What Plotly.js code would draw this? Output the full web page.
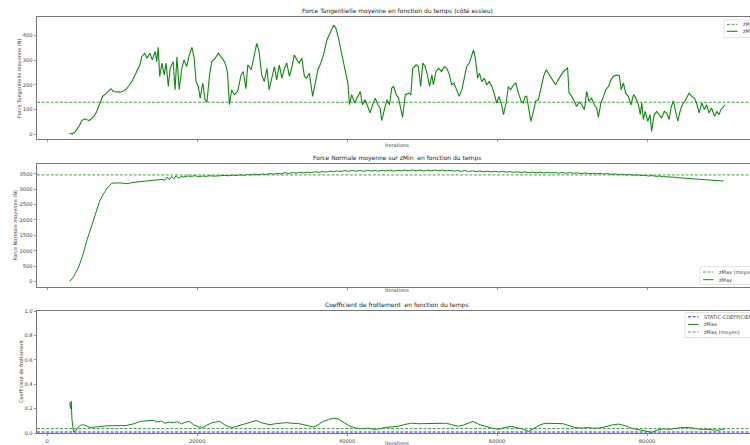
<!DOCTYPE html>
<html>
<head>
<meta charset="utf-8">
<script src="https://cdn.plot.ly/plotly-3.0.1.min.js"></script>
<style>
html,body{margin:0;padding:0;overflow:hidden;background:#fff;}
#chart{width:900px;height:445px;}
</style>
</head>
<body>
<div id="chart"></div>
<script>
// ---------- DATA ----------
const xTickVals = [0, 20000, 40000, 60000, 80000];

const tanIter = [3000,3300,3700,4000,4300,4600,5000,5300,5600,6000,6300,6600,7000,7400,7900,8500,8800,9300,9700,10200,10600,11300,11900,12400,12600,13000,13300,13700,14000,14400,14600,14800,15000,15300,15600,15850,16150,16400,16800,17050,17300,17600,17950,18250,18600,18950,19300,19600,19850,20150,20400,20750,21050,21300,21650,21950,22400,22850,23150,23500,23800,24050,24300,24600,24950,25400,25850,26150,26500,26750,27200,27650,27950,28250,28600,28950,29300,29600,29950,30300,30600,30950,31300,31650,31950,32300,32600,32950,33300,33600,33950,34300,34600,34950,35400,35750,36100,36400,36850,37300,37750,38200,38500,38850,39200,39500,39800,40100,40300,40600,41000,41350,41750,42050,42400,42750,43050,43400,43750,44100,44400,44600,45000,45300,45650,45950,46200,46550,46850,47100,47400,47750,48200,48500,48750,49200,49500,49800,50100,50400,50700,51000,51300,51500,51850,52200,52600,52950,53300,53650,53950,54250,54600,54950,55300,55600,55950,56300,56600,56850,57100,57400,57650,57950,58300,58600,58950,59300,59600,59950,60250,60600,60850,61200,61500,61800,62200,62500,62850,63200,63500,63750,63950,64300,64500,64850,65150,65500,65800,66200,66550,66850,67200,67500,67800,68150,68500,68850,69150,69400,69600,69950,70300,70600,70950,71300,71650,71950,72250,72600,72950,73300,73500,73850,74200,74500,74850,75200,75500,75950,76300,76550,76850,77150,77500,77850,78200,78500,78850,79100,79300,79500,79750,80100,80400,80600,80950,81300,81600,81950,82300,82600,82950,83200,83500,83800,84100,84400,84700,85050,85350,85600,85950,86300,86600,86950,87300,87650,87950,88250,88600,89000,89300,89600,89850,90150,90400];
const tanVal = [3,0,8,20,35,55,62,58,55,65,75,92,125,153,166,184,173,172,170,175,184,213,254,284,314,328,308,328,301,335,294,352,234,288,240,288,193,267,294,180,314,180,267,301,274,321,352,308,213,193,146,207,139,130,240,294,308,328,314,301,281,247,119,180,160,173,240,254,184,281,261,321,368,335,240,213,267,180,234,274,220,281,227,267,288,234,267,321,301,288,308,234,227,247,153,213,261,281,321,382,409,442,429,389,335,294,247,207,119,160,126,146,173,119,139,112,86,119,146,119,106,55,106,139,119,187,193,160,146,106,68,160,166,160,267,281,274,193,288,274,240,193,240,200,254,267,254,274,267,240,200,207,180,153,180,220,274,288,321,341,308,227,247,213,227,200,213,193,166,126,153,119,79,126,193,180,200,207,166,133,126,153,153,92,52,92,135,139,180,234,261,247,227,213,200,220,240,254,261,270,166,153,133,112,130,119,99,173,133,146,119,106,68,126,153,180,193,220,234,240,237,180,207,166,153,119,160,146,119,79,126,59,92,52,79,11,79,92,79,65,92,86,59,106,135,92,52,92,119,133,153,166,153,146,126,86,126,99,119,86,106,72,92,79,99,112,119];
const tanMean = 129;

const normIter = [3000,3500,4200,4800,5300,5900,6400,7000,7500,8000,8600,9200,9700,10300,10800,11300,11800,12300,12800,13300,13800,14300,14800,15300,15700,16000,16300,16600,16900,17200,17500,17800,18200,18700,19200,19700,20200,20700,21200,21700,22200,22700,23200,23700,24200,24700,25200,25700,26200,26700,27200,27700,28200,28700,29200,29700,30200,30700,31200,31700,32200,32700,33200,33700,34200,34700,35200,35700,36200,36700,37200,37700,38200,38700,39200,39700,40200,40700,41200,41700,42200,42700,43200,43700,44200,44700,45200,45700,46200,46700,47200,47700,48200,48700,49200,49700,50200,50700,51200,51700,52200,52700,53200,53700,54200,54700,55200,55700,56200,56700,57200,57700,58200,58700,59200,59700,60200,60700,61200,61700,62200,62700,63200,63700,64200,64700,65200,65700,66200,66700,67200,67700,68200,68700,69200,69700,70200,70700,71200,71700,72200,72700,73200,73700,74200,74700,75200,75700,76200,76700,77200,77700,78200,78700,79200,79700,80200,80700,81200,81700,82200,82700,83200,83700,84200,84700,85200,85700,86200,86700,87200,87700,88200,88700,89200,89700,90200];
const normVal = [0,150,470,900,1344,1800,2219,2620,2850,3040,3200,3210,3205,3190,3180,3220,3230,3240,3250,3260,3270,3285,3300,3320,3290,3400,3310,3420,3340,3440,3360,3410,3400,3430,3420,3440,3410,3430,3420,3440,3425,3440,3435,3450,3440,3460,3445,3470,3450,3480,3465,3490,3470,3500,3480,3510,3490,3520,3500,3540,3510,3545,3520,3555,3530,3560,3540,3570,3550,3580,3555,3590,3570,3600,3575,3610,3580,3615,3585,3610,3580,3615,3590,3610,3590,3620,3595,3625,3590,3615,3595,3620,3600,3630,3600,3625,3595,3620,3600,3625,3605,3625,3600,3615,3590,3610,3585,3605,3580,3600,3575,3595,3570,3590,3565,3585,3560,3580,3555,3575,3550,3570,3545,3565,3540,3560,3535,3555,3530,3550,3530,3545,3525,3545,3520,3540,3520,3535,3510,3530,3505,3520,3500,3515,3495,3510,3485,3500,3475,3490,3465,3480,3455,3470,3450,3455,3430,3445,3420,3430,3410,3410,3395,3390,3375,3370,3355,3350,3340,3330,3320,3310,3300,3290,3285,3275,3270];
const normMean = 3466;

const coefIter = [3000,3100,3200,3300,3500,3800,4100,4400,4800,5200,5700,6300,7000,7800,8800,9700,10600,11500,12400,13300,14200,14700,15200,15700,16300,16800,17400,17900,18500,19000,19500,20200,20800,21300,21800,22400,23000,23600,24200,24800,25500,26200,26800,27400,27900,28500,29100,29700,30300,31000,31900,32600,33400,34100,34800,35500,36200,36800,37500,38200,38800,39500,40400,41200,42000,42800,43600,44400,45100,46000,46800,47700,48600,49500,50400,51300,52200,53100,53900,54700,55500,56300,56800,57600,58400,59300,60200,61000,61900,62700,63500,64200,65000,65700,66400,67200,68000,68800,69600,70400,71200,72000,72700,73500,74400,75300,76200,77100,77900,78800,79700,80600,81400,82200,83000,83900,84700,85500,86300,87100,87900,88700,89500,90400];
const coefVal = [0.25,0.20,0.26,0.11,0.01,0.02,0.045,0.062,0.068,0.06,0.046,0.048,0.055,0.058,0.06,0.06,0.062,0.075,0.095,0.1,0.103,0.09,0.098,0.08,0.09,0.085,0.092,0.075,0.09,0.095,0.068,0.05,0.046,0.065,0.08,0.09,0.095,0.07,0.05,0.046,0.06,0.073,0.08,0.095,0.103,0.085,0.076,0.068,0.075,0.08,0.085,0.08,0.078,0.07,0.06,0.049,0.07,0.095,0.11,0.122,0.115,0.09,0.055,0.04,0.035,0.04,0.03,0.035,0.046,0.05,0.055,0.07,0.08,0.076,0.078,0.076,0.08,0.08,0.07,0.055,0.065,0.085,0.095,0.07,0.055,0.04,0.03,0.045,0.055,0.045,0.03,0.013,0.04,0.065,0.08,0.078,0.076,0.076,0.06,0.045,0.04,0.045,0.04,0.04,0.05,0.065,0.073,0.06,0.04,0.03,0.015,0.005,0.025,0.035,0.03,0.04,0.045,0.046,0.035,0.03,0.03,0.025,0.022,0.035];
const coefMean = 0.037;
const staticCoef = 0.008;

const titles = [
  "Force Tangentielle moyenne en fonction du temps (côté essieu)",
  "Force Normale moyenne sur zMin  en fonction du temps",
  "Coefficient de frottement  en fonction du temps"
];
const yLabels = ["Force Tangentielle moyenne (N)", "Force Normale moyenne (N)", "Coefficient de frottement"];
const xLabel = "Iterations";
const legendNames = [
  ["zMax (moyen)", "zMax"],
  ["zMax (moyen)", "zMax"],
  ["STATIC-COEFFICIENT", "zMax", "zMax (moyen)"]
];

// ---------- LAYOUT HELPERS ----------
const W = 900, H = 445;
const XR = [-1365, 94665];
const px = v => v / W;
const py = v => 1 - v / H;
const GREEN = "#118811";
const LGREEN = "#2f9f2f";
const BLUE = "#2a2aee";
const DASH = "3px,1.6px";
const FONT = "DejaVu Sans, sans-serif";

const panels = [
  {top: 17, bottom: 139, range: [-20, 475], dtick: 100, fmt: "d", labX: 19, titleY: 11, xlabY: 144.5},
  {top: 164, bottom: 287, range: [-182, 3822], dtick: 500, fmt: "d", labX: 15, titleY: 158, xlabY: 290},
  {top: 311, bottom: 433, range: [0, 1], dtick: 0.2, fmt: ".1f", labX: 21, titleY: 305, xlabY: 443}
];

const mean = (v) => [v, v];

const traces = [
  {x: XR, y: mean(tanMean), xaxis: "x", yaxis: "y", mode: "lines", name: legendNames[0][0],
   line: {color: LGREEN, width: 0.9, dash: DASH}},
  {x: tanIter, y: tanVal, xaxis: "x", yaxis: "y", mode: "lines", name: legendNames[0][1],
   line: {color: GREEN, width: 1.1}},
  {x: XR, y: mean(normMean), xaxis: "x2", yaxis: "y2", mode: "lines", name: legendNames[1][0],
   line: {color: LGREEN, width: 0.9, dash: DASH}},
  {x: normIter, y: normVal, xaxis: "x2", yaxis: "y2", mode: "lines", name: legendNames[1][1],
   line: {color: GREEN, width: 1}},
  {x: XR, y: mean(staticCoef), xaxis: "x3", yaxis: "y3", mode: "lines", name: legendNames[2][0],
   line: {color: BLUE, width: 1, dash: DASH}},
  {x: coefIter, y: coefVal, xaxis: "x3", yaxis: "y3", mode: "lines", name: legendNames[2][1],
   line: {color: GREEN, width: 1}},
  {x: XR, y: mean(coefMean), xaxis: "x3", yaxis: "y3", mode: "lines", name: legendNames[2][2],
   line: {color: LGREEN, width: 0.9, dash: DASH}}
];

const layout = {
  width: W, height: H,
  margin: {l: 0, r: 0, t: 0, b: 0},
  paper_bgcolor: "#fff", plot_bgcolor: "#fff",
  font: {family: FONT, size: 5.2, color: "#444"},
  showlegend: false,
  annotations: [],
  shapes: [],
  hovermode: false
};

panels.forEach((p, i) => {
  const sfx = i === 0 ? "" : String(i + 1);
  layout["xaxis" + sfx] = {
    domain: [px(37), px(757)], range: XR, anchor: "y" + sfx,
    showgrid: false, zeroline: false, showline: true, linecolor: "#555", linewidth: 0.8, mirror: true,
    ticks: "outside", ticklen: 2.5, tickwidth: 0.6, tickcolor: "#555",
    tickvals: xTickVals, ticktext: xTickVals.map(String),
    showticklabels: i === 2, tickfont: {family: FONT, size: 5.2, color: "#444"}
  };
  layout["yaxis" + sfx] = {
    domain: [py(p.bottom), py(p.top)], range: p.range, anchor: "x" + sfx,
    showgrid: false, zeroline: false, showline: true, linecolor: "#555", linewidth: 0.8, mirror: true,
    ticks: "outside", ticklen: 2.5, tickwidth: 0.6, tickcolor: "#555",
    tick0: 0, dtick: p.dtick, tickformat: p.fmt,
    tickfont: {family: FONT, size: 5.2, color: "#444"}
  };
  layout.annotations.push({
    text: titles[i], xref: "paper", yref: "paper", x: px(397), y: py(p.titleY),
    xanchor: "center", yanchor: "middle", showarrow: false,
    font: {family: FONT, size: 6, color: "#222"}
  });
  layout.annotations.push({
    text: yLabels[i], xref: "paper", yref: "paper", x: px(p.labX), y: py((p.top + p.bottom) / 2),
    xanchor: "center", yanchor: "middle", showarrow: false, textangle: -90,
    font: {family: FONT, size: 5, color: "#444"}
  });
  layout.annotations.push({
    text: xLabel, xref: "paper", yref: "paper", x: px(397), y: py(p.xlabY),
    xanchor: "center", yanchor: "middle", showarrow: false,
    font: {family: FONT, size: 5, color: "#444"}
  });
});

// ---------- compact matplotlib-like legends (drawn as shapes + annotations) ----------
const legendSpecs = [
  {x: 724, top: 20, bottom: 37.5, rows: [24.4, 31.3], traces: [0, 1]},
  {x: 700, top: 266.5, bottom: 284.5, rows: [272, 279.7], traces: [2, 3]},
  {x: 685, top: 312.5, bottom: 337.5, rows: [316.8, 324.4, 332], traces: [4, 5, 6]}
];
legendSpecs.forEach((L) => {
  layout.shapes.push({
    type: "rect", xref: "paper", yref: "paper", layer: "above",
    x0: px(L.x), x1: px(L.x + 90), y0: py(L.bottom), y1: py(L.top),
    fillcolor: "rgba(255,255,255,0.85)", line: {color: "#d4d4d4", width: 0.7}
  });
  L.traces.forEach((ti, k) => {
    const tr = traces[ti];
    layout.shapes.push({
      type: "line", xref: "paper", yref: "paper", layer: "above",
      x0: px(L.x + 3), x1: px(L.x + 13.5), y0: py(L.rows[k]), y1: py(L.rows[k]),
      line: {color: tr.line.color, width: tr.line.width, dash: tr.line.dash || "solid"}
    });
    layout.annotations.push({
      text: tr.name, xref: "paper", yref: "paper", x: px(L.x + 16.5), y: py(L.rows[k]),
      xanchor: "left", yanchor: "middle", showarrow: false,
      font: {family: FONT, size: 5, color: "#444"}
    });
  });
});

Plotly.newPlot("chart", traces, layout, {staticPlot: true, displayModeBar: false});
</script>
</body>
</html>
